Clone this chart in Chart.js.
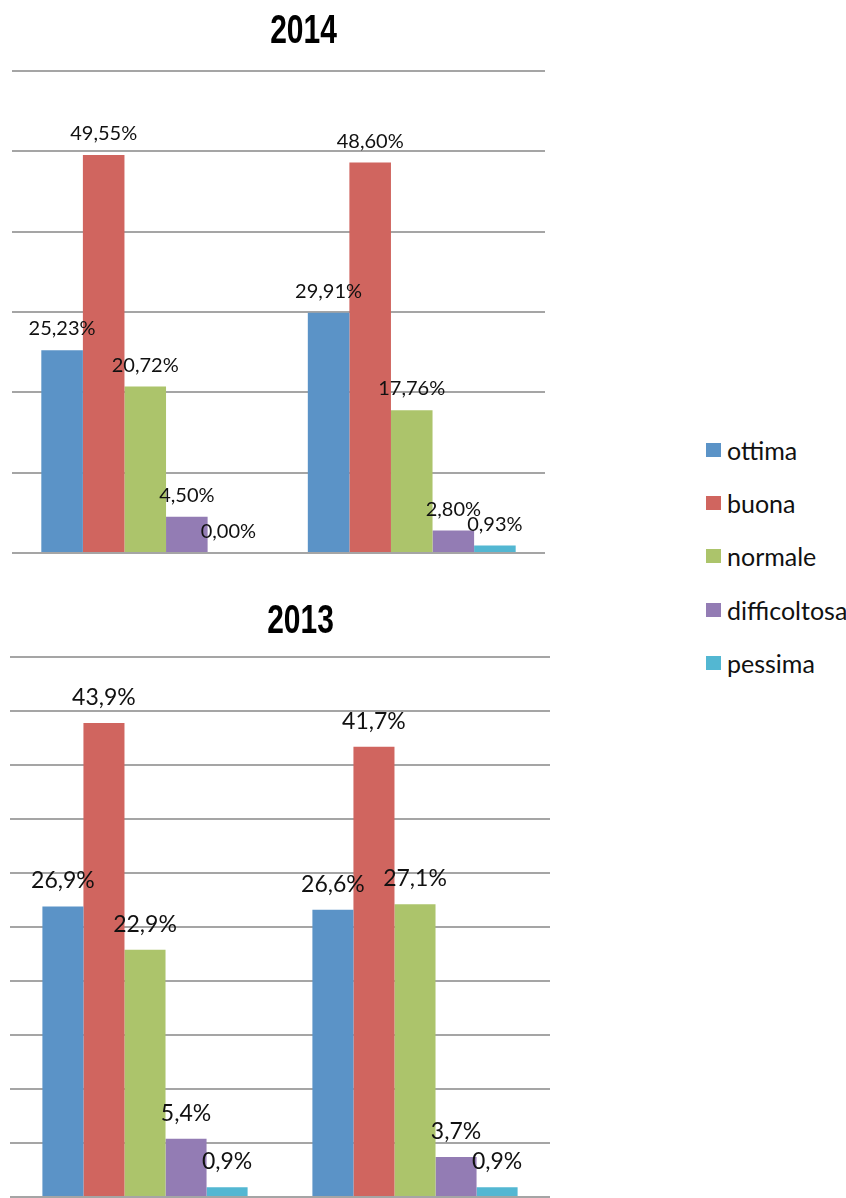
<!DOCTYPE html>
<html><head><meta charset="utf-8">
<script src="https://cdn.jsdelivr.net/npm/chart.js@4"></script>
<style>
html,body{margin:0;padding:0;background:#fff;width:846px;height:1198px;overflow:hidden;}
.box{position:absolute;left:0;width:604px;}
#b1{top:0;height:570px;}
#b2{top:580px;height:618px;}
.li{position:absolute;left:706px;height:30px;line-height:30px;font-family:Lato,sans-serif;font-size:25px;color:#111;white-space:nowrap;}
.sw{position:absolute;left:0;top:8px;width:15px;height:14px;}
.tx{position:absolute;left:21px;top:0;}
</style>
</head><body>
<div class="box" id="b1"><canvas id="c1"></canvas></div>
<div class="box" id="b2"><canvas id="c2"></canvas></div>
<div id="legend"></div>
<script>
const categories = ['Gruppo 1', 'Gruppo 2'];
const seriesNames = ['ottima', 'buona', 'normale', 'difficoltosa', 'pessima'];
const seriesColors = ['#5B93C7', '#D0655F', '#ACC46B', '#937CB4', '#53B7D2'];

// 2014
const ottima2014 = [25.23, 29.91];
const buona2014 = [49.55, 48.60];
const normale2014 = [20.72, 17.76];
const difficoltosa2014 = [4.50, 2.80];
const pessima2014 = [0.00, 0.93];

// 2013
const ottima2013 = [26.9, 26.6];
const buona2013 = [43.9, 41.7];
const normale2013 = [22.9, 27.1];
const difficoltosa2013 = [5.4, 3.7];
const pessima2013 = [0.9, 0.9];

const valueLabels = {
  id: 'valueLabels',
  afterDatasetsDraw(chart, args, o) {
    const ctx = chart.ctx;
    ctx.save();
    ctx.font = o.size + 'px Lato, sans-serif';
    ctx.fillStyle = '#111';
    ctx.textAlign = 'center';
    ctx.textBaseline = 'alphabetic';
    chart.data.datasets.forEach((ds, i) => {
      chart.getDatasetMeta(i).data.forEach((el, j) => {
        const v = ds.data[j];
        ctx.fillText(v.toFixed(o.decimals).replace('.', ',') + '%', el.x, el.y - o.offset);
      });
    });
    ctx.restore();
  }
};

const narrowTitle = {
  id: 'narrowTitle',
  afterDraw(chart, args, o) {
    const ctx = chart.ctx;
    ctx.save();
    ctx.translate(o.x, o.y);
    ctx.scale(o.sx, 1);
    ctx.font = 'bold ' + o.size + "px 'Liberation Sans', Arial, sans-serif";
    ctx.fillStyle = '#000';
    ctx.textAlign = 'center';
    ctx.textBaseline = 'alphabetic';
    ctx.fillText(o.text, 0, 0);
    ctx.restore();
  }
};

function makeChart(id, title, seriesData, cfg) {
  return new Chart(document.getElementById(id), {
    type: 'bar',
    data: {
      labels: categories,
      datasets: seriesNames.map((n, i) => ({
        label: n,
        data: seriesData[i],
        backgroundColor: seriesColors[i],
        borderWidth: 0,
        barPercentage: 1.0,
        categoryPercentage: cfg.cat
      }))
    },
    options: {
      responsive: true,
      maintainAspectRatio: false,
      animation: false,
      devicePixelRatio: 1,
      layout: { padding: cfg.pad },
      plugins: {
        legend: { display: false },
        tooltip: { enabled: false },
        title: { display: false },
        narrowTitle: Object.assign({ text: title }, cfg.title),
        valueLabels: cfg.labels
      },
      scales: {
        x: {
          ticks: { display: false },
          grid: { display: false, drawTicks: false },
          border: { display: false }
        },
        y: {
          min: 0, max: cfg.max,
          ticks: { display: false, stepSize: cfg.step },
          grid: { color: '#A5A5A5', lineWidth: 2, drawTicks: false },
          border: { display: false }
        }
      }
    },
    plugins: [valueLabels, narrowTitle]
  });
}

makeChart('c1', '2014',
  [ottima2014, buona2014, normale2014, difficoltosa2014, pessima2014],
  { cat: 0.78, max: 60, step: 10,
    pad: { left: 12, right: 59, top: 71, bottom: 17 },
    title: { x: 303.5, y: 43, size: 40, sx: 0.75 },
    labels: { size: 20, offset: 15, decimals: 2 } });

makeChart('c2', '2013',
  [ottima2013, buona2013, normale2013, difficoltosa2013, pessima2013],
  { cat: 0.76, max: 50, step: 5,
    pad: { left: 10, right: 54, top: 77, bottom: 1 },
    title: { x: 300.5, y: 53, size: 41, sx: 0.73 },
    labels: { size: 23, offset: 18, decimals: 1 } });

const legend = document.getElementById('legend');
seriesNames.forEach((n, i) => {
  const d = document.createElement('div');
  d.className = 'li';
  d.style.top = (450 + i * 53.2 - 15) + 'px';
  d.innerHTML = '<span class="sw" style="background:' + seriesColors[i] + '"></span><span class="tx">' + n + '</span>';
  legend.appendChild(d);
});
</script>
</body></html>
